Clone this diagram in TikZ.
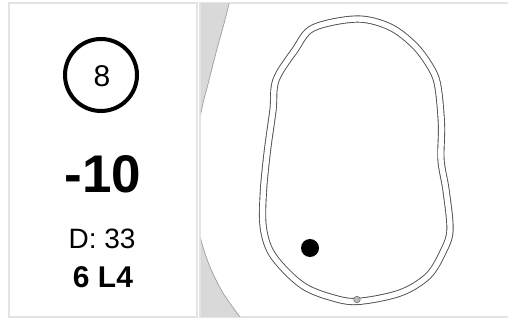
\documentclass[tikz,border=0pt]{standalone}
\usepackage{fontspec}
\setmainfont{Liberation Sans}
\usepackage{tikz}
\usetikzlibrary{positioning}
\usepackage{xcolor}
\definecolor{frame}{HTML}{E4E4E4}
\definecolor{grass}{HTML}{D9D9D9}
\definecolor{edge}{HTML}{A0A0A0}
\definecolor{track}{HTML}{4D4D4D}
\definecolor{pin}{HTML}{BBBBBB}

\begin{document}
\begin{tikzpicture}[
        x=1pt, y=-1pt,
        panel/.style={draw=frame, line width=1.6pt, fill=white},
        txt/.style={anchor=base, inner sep=0pt, font=\fontsize{28}{28}\selectfont},
        big/.style={anchor=base, inner sep=0pt, font=\fontsize{53}{53}\selectfont\bfseries}
      ]
        \useasboundingbox (0,0) rectangle (508,320);

        % panels
        \draw[panel] (9,3) rectangle (197,317);
        \draw[panel] (200,3) rectangle (512,317);

        % grass at the left edge of the map
        \begin{scope}
          \clip (200.8,3.8) rectangle (508,316.2);
          \fill[grass] (180,-5) -- plot[smooth] coordinates {(231,-5) (225,20) (216.7,50) (208.3,83) (201.5,110) (197.5,140) (196.5,177) (197.5,215) (201,240) (210,267) (223,293) (242,320) (248,330)} -- (180,330) -- cycle;
          \draw[edge, line width=0.7pt] plot[smooth] coordinates {(231,-5) (225,20) (216.7,50) (208.3,83) (201.5,110) (197.5,140) (196.5,177) (197.5,215) (201,240) (210,267) (223,293) (242,320) (248,330)};
        \end{scope}

        % left panel
        \node[circle, draw, line width=4pt, minimum size=72pt, inner sep=0pt] (ring) at (101,75) {};
        \node[txt, font=\fontsize{30}{30}\selectfont] (num) at (102,87) {8};
        \node[big] (score) at (103,193) {-10};
        \node[txt] (dist) at (102,248) {D: 33};
        \node[txt, font=\fontsize{30}{30}\selectfont\bfseries] (lap) at (103,287) {6 L4};

        % track
        \draw[draw=track, line width=0.9pt, double=white, double distance=5.4pt]
          plot[smooth cycle, tension=0.55] coordinates {
            (357,19) (313,28) (295,50) (276,80) (273,110) (267.5,150) (263.5,190)
            (263,225) (269.7,250) (285,270) (305,287) (330,297) (357,301.5)
            (400,293) (428,276) (443,252) (450,230) (446,190) (441,160)
            (441.5,125) (438,87) (431.7,69) (415,46) (390,27)};

        % ball and start mark
        \node[circle, fill=black, minimum size=18pt, inner sep=0pt] (ball) at (310,248) {};
        \node[circle, draw=track!80, fill=pin, line width=0.6pt, minimum size=6.5pt, inner sep=0pt] (start) at (357,299.5) {};
    \end{tikzpicture}
\end{document}
